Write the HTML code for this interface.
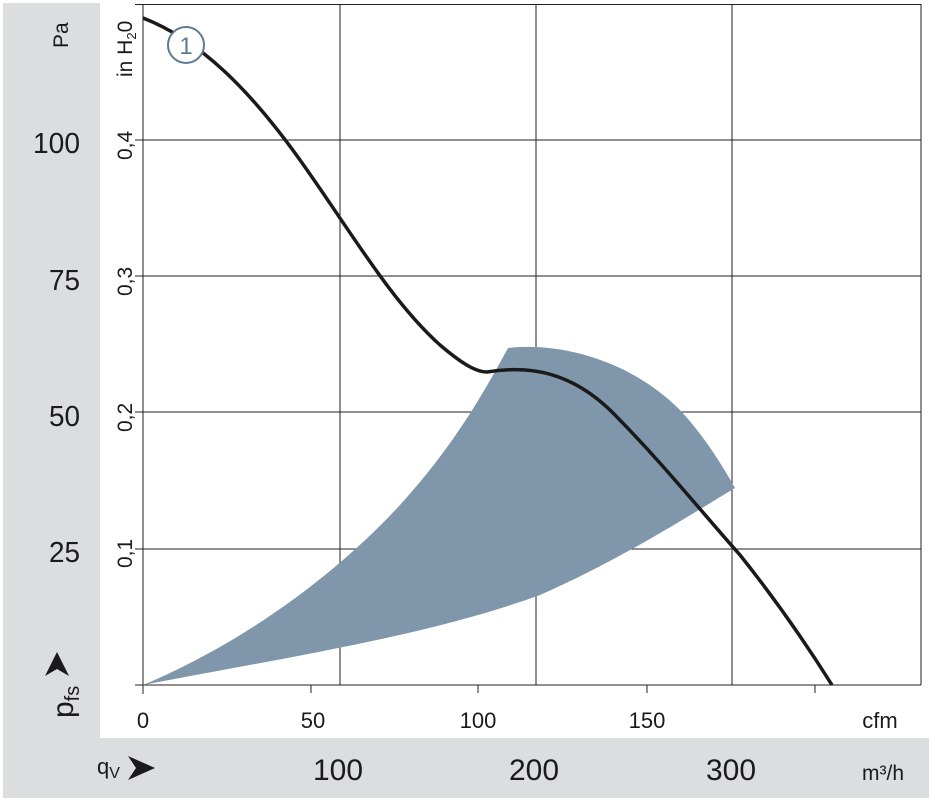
<!DOCTYPE html><html><head><style>body{margin:0;background:#fff}</style></head><body>
<svg width="932" height="802" xmlns="http://www.w3.org/2000/svg" font-family="Liberation Sans, sans-serif">
<rect x="3" y="3" width="97" height="795" fill="#dcdddf"/>
<rect x="3" y="738" width="926" height="60" fill="#dcdddf"/>
<g stroke="#222" stroke-width="1" fill="none">
<line x1="135" y1="4.5" x2="921" y2="4.5"/>
<line x1="921" y1="4" x2="921" y2="685"/>
<line x1="143" y1="4" x2="143" y2="694"/>
<line x1="135" y1="685" x2="921" y2="685"/>
<line x1="135" y1="140" x2="921" y2="140"/>
<line x1="135" y1="276" x2="921" y2="276"/>
<line x1="135" y1="412" x2="921" y2="412"/>
<line x1="135" y1="549" x2="921" y2="549"/>
<line x1="340" y1="4" x2="340" y2="685"/>
<line x1="536" y1="4" x2="536" y2="685"/>
<line x1="732" y1="4" x2="732" y2="685"/>
<line x1="311" y1="685" x2="311" y2="693"/>
<line x1="478" y1="685" x2="478" y2="693"/>
<line x1="647" y1="685" x2="647" y2="693"/>
<line x1="815" y1="685" x2="815" y2="693"/>
</g>
<path d="M143,685 C250,640 340,570 400,505 C450,450 480,400 508,348 C560,342 630,360 680,410 C705,437 722,465 735,488 C690,515 620,560 540,595 C430,635 300,655 143,685 Z" fill="#7f96ab"/>
<path d="M143,18 C200,40 250,90 300,160 C350,230 390,300 440,345 C460,362 475,372 487,372 C530,365 570,372 610,410 C660,460 700,510 740,555 C780,605 810,650 832,685" fill="none" stroke="#1a1a1a" stroke-width="3.5"/>
<circle cx="186" cy="45" r="18" fill="#fff" stroke="#5e7a93" stroke-width="2"/>
<text x="186" y="54" font-size="24" text-anchor="middle" fill="#5e7a93">1</text>
<g font-size="29" fill="#1a1a1a" text-anchor="end">
<text x="80" y="153" textLength="47" lengthAdjust="spacingAndGlyphs">100</text><text x="80" y="290" textLength="31" lengthAdjust="spacingAndGlyphs">75</text><text x="80" y="426" textLength="31" lengthAdjust="spacingAndGlyphs">50</text><text x="80" y="562" textLength="31" lengthAdjust="spacingAndGlyphs">25</text>
</g>
<text transform="translate(68,48) rotate(-90)" font-size="21" fill="#1a1a1a">Pa</text>
<text transform="translate(73,718) rotate(-90)" font-size="30" fill="#1a1a1a">p<tspan font-size="20" dy="6">fs</tspan></text>
<path d="M57,652 L45,676 L57,669 L69,676 Z" fill="#1a1a1a"/>
<g font-size="21" fill="#1a1a1a">
<text transform="translate(132,160) rotate(-90)">0,4</text>
<text transform="translate(132,296) rotate(-90)">0,3</text>
<text transform="translate(132,432) rotate(-90)">0,2</text>
<text transform="translate(132,568) rotate(-90)">0,1</text>
<text transform="translate(132,77) rotate(-90)">in H<tspan font-size="13" dy="4">2</tspan><tspan dy="-4">0</tspan></text>
</g>
<g font-size="22" fill="#1a1a1a" text-anchor="middle">
<text x="143" y="728">0</text><text x="313" y="728">50</text><text x="478" y="728">100</text><text x="647" y="728">150</text><text x="880" y="728">cfm</text>
</g>
<g font-size="30" fill="#1a1a1a" text-anchor="middle">
<text x="338" y="780" textLength="50" lengthAdjust="spacingAndGlyphs">100</text><text x="534" y="780" textLength="50" lengthAdjust="spacingAndGlyphs">200</text><text x="731" y="780" textLength="50" lengthAdjust="spacingAndGlyphs">300</text>
</g>
<text x="862" y="780" font-size="21" fill="#1a1a1a">m³/h</text>
<text x="97" y="774" font-size="22" fill="#1a1a1a">q<tspan font-size="16" dy="4">V</tspan></text>
<path d="M128,756 L155,768 L128,780 L136,768 Z" fill="#1a1a1a"/>
</svg>
</body></html>
